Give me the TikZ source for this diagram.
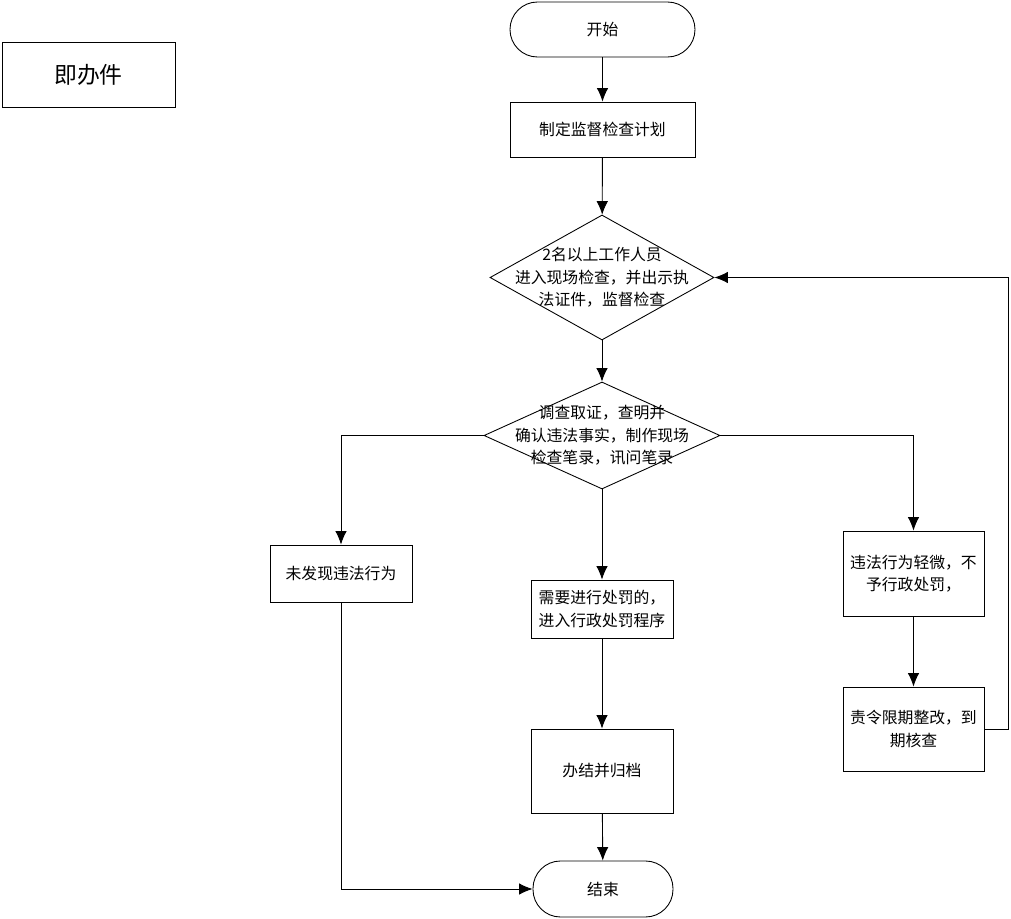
\documentclass[tikz,border=0pt]{standalone}
\usepackage{fontspec}
\setmainfont{Noto Sans CJK SC}
\usetikzlibrary{shapes.geometric,arrows.meta}
\begin{document}
\begin{tikzpicture}[x=0.2mm,y=-0.2mm,
  every node/.style={font=\fontsize{9pt}{12.8pt}\selectfont, align=center, inner sep=0pt},
  box/.style={draw, line width=0.5pt, rectangle},
  term/.style={draw, line width=0.5pt, rectangle, rounded corners=5.5mm},
  dia/.style={draw, line width=0.5pt, diamond, inner sep=0pt},
  conn/.style={line width=0.5pt, -{Latex[length=2.7mm,width=2.3mm]}},
  plain/.style={line width=0.5pt}]
\useasboundingbox (0,0) rectangle (1011,919);
\node[box, minimum width=34.6mm, minimum height=13mm, font=\fontsize{13pt}{15pt}\selectfont] (label) at (88.5,74.5) {即办件};
\node[term, minimum width=37mm, minimum height=11mm] (start) at (602.5,29.5) {开始};
\node[box, minimum width=37mm, minimum height=11mm] (plan) at (602.5,129.5) {制定监督检查计划};
\node[dia, minimum width=44.8mm, minimum height=25mm] (d1) at (602,277.5) {};
\node at (d1) {2名以上工作人员\\进入现场检查，并出示执\\法证件，监督检查};
\node[dia, minimum width=47.2mm, minimum height=21.4mm] (d2) at (602,435.5) {};
\node at (d2) {调查取证，查明并\\确认违法事实，制作现场\\检查笔录，讯问笔录};
\node[box, minimum width=28.4mm, minimum height=11.4mm] (nf) at (341,573.5) {未发现违法行为};
\node[box, minimum width=28.4mm, minimum height=11.6mm] (pun) at (602,609) {需要进行处罚的，\\进入行政处罚程序};
\node[box, minimum width=28.2mm, minimum height=17mm] (minor) at (913.5,573.5) {违法行为轻微，不\\予行政处罚，};
\node[box, minimum width=28.2mm, minimum height=16.8mm] (order) at (913.5,729) {责令限期整改，到\\期核查};
\node[box, minimum width=28.4mm, minimum height=16.8mm] (close) at (602,771) {办结并归档};
\node[term, minimum width=28mm, minimum height=11.2mm] (end) at (603,889) {结束};
\coordinate (fb) at (1008,729);
\draw[conn] (start) -- (plan);
\draw[conn] (plan) -- (d1);
\draw[conn] (d1) -- (d2);
\draw[conn] (d2.west) -| (nf.north);
\draw[conn] (d2.south) -- (pun.north);
\draw[conn] (d2.east) -| (minor.north);
\draw[conn] (minor) -- (order);
\draw[conn] (order.east) -- (fb) |- (d1.east);
\draw[conn] (pun) -- (close);
\draw[conn] (close) -- (end);
\draw[conn] (nf.south) |- (end.west);
\end{tikzpicture}
\end{document}
